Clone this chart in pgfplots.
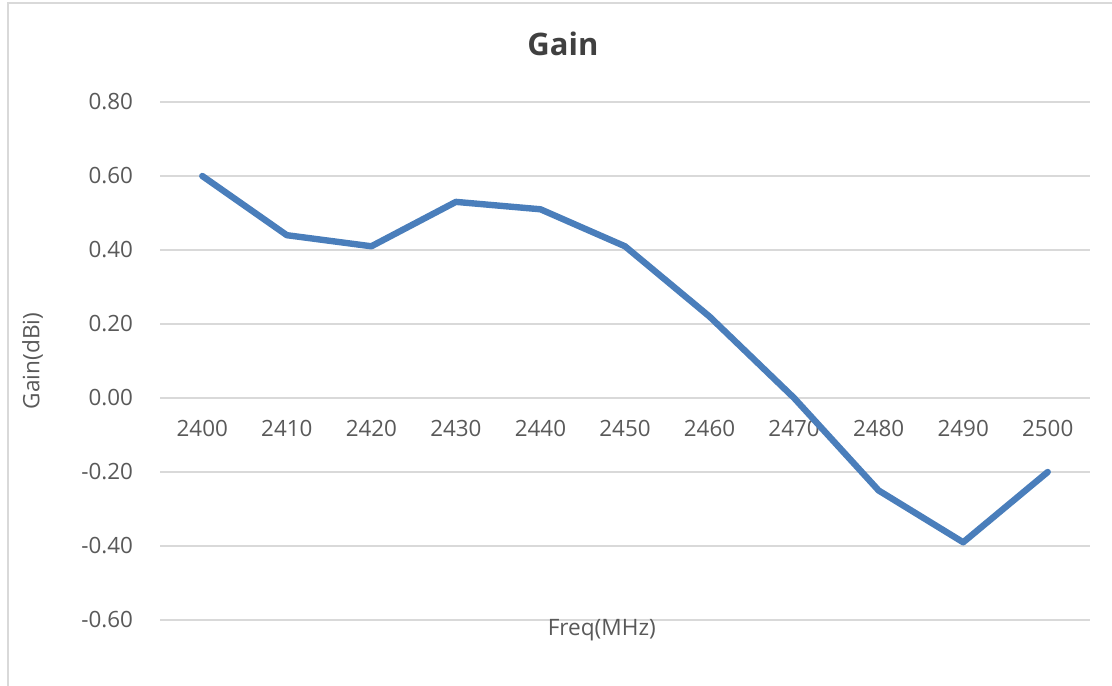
\documentclass[border=0pt]{standalone}
\usepackage{pgfplots}
\pgfplotsset{compat=1.18}
\usepackage{fontspec}
\setmainfont{Open Sans}

\definecolor{linblue}{HTML}{4A7EBB}
\definecolor{gridgray}{HTML}{D9D9D9}
\definecolor{txtgray}{HTML}{595959}
\definecolor{ttlgray}{HTML}{404040}

% gain vs. frequency, categories at 0..10
\pgfplotstableread{
idx freq gain
0 2400 0.60
1 2410 0.44
2 2420 0.41
3 2430 0.53
4 2440 0.51
5 2450 0.41
6 2460 0.22
7 2470 0.00
8 2480 -0.25
9 2490 -0.39
10 2500 -0.20
}\gaintable

\begin{document}
\begin{tikzpicture}
\useasboundingbox (0,0) rectangle (556bp,343bp);
\draw[gridgray, line width=1bp] (4bp,-10bp) -- (4bp,341.5bp) -- (570bp,341.5bp);
\begin{axis}[
  at={(80bp,33bp)}, anchor=south west,
  width=465bp, height=259bp, scale only axis,
  xmin=-0.5, xmax=10.5, ymin=-0.6, ymax=0.8,
  axis x line=middle, axis y line=left,
  axis line style={draw=none},
  hide obscured y ticks=false, hide obscured x ticks=false,
  major tick length=0,
  xtick={0,...,10},
  xticklabels={2400,2410,2420,2430,2440,2450,2460,2470,2480,2490,2500},
  ytick={-0.6,-0.4,-0.2,0,0.2,0.4,0.6,0.8},
  ymajorgrids, grid style={gridgray, line width=1bp},
  font=\fontsize{11.3bp}{13bp}\selectfont,
  tick label style={txtgray, font=\fontsize{11.2bp}{13bp}\selectfont},
  yticklabel style={anchor=east, xshift=-10bp},
  xticklabel style={anchor=center, yshift=-15bp},
  /pgf/number format/assume math mode=true,
  yticklabel={\pgfmathprintnumber[fixed, fixed zerofill, precision=2]{\tick}},
  xlabel={Freq(MHz)},
  xlabel style={at={(axis description cs:0.475,0)}, anchor=center, yshift=-5bp, txtgray},
  ylabel={Gain(dBi)},
  ylabel style={at={(axis description cs:-0.137,0.5)}, anchor=center, rotate=0, txtgray},
  title={\textbf{Gain}},
  title style={at={(axis description cs:0.4333,1)}, anchor=center, yshift=23bp, ttlgray, font=\fontsize{15.5bp}{18bp}\selectfont},
  clip=false,
]
\addplot[linblue, line width=3.2bp, line cap=round, line join=round] table[x=idx, y=gain] {\gaintable};
\end{axis}
\end{tikzpicture}
\end{document}
